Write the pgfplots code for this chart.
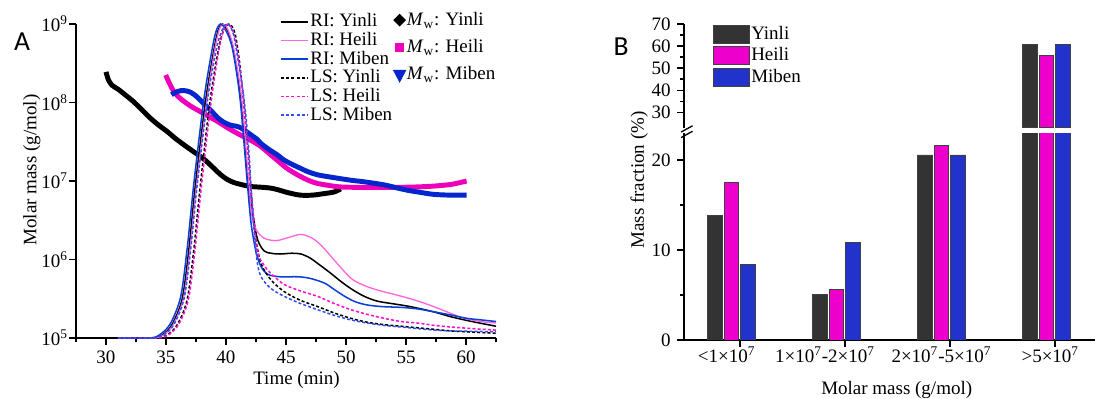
\documentclass[border=0pt]{standalone}
\usepackage{pgfplots}
\pgfplotsset{compat=1.18}
\usepackage{fontspec}
\setmainfont{Liberation Serif}
\newfontfamily\panelfont{Carlito}
\definecolor{riheili}{HTML}{FF66DD}
\definecolor{rimiben}{HTML}{0A3ED8}
\definecolor{lsheili}{HTML}{FF10CC}
\definecolor{lsmiben}{HTML}{3050F0}
\definecolor{mwheili}{HTML}{EE00BB}
\definecolor{mwmiben}{HTML}{0526CC}
\definecolor{barblack}{HTML}{333333}
\definecolor{barpink}{HTML}{EE00CC}
\definecolor{barblue}{HTML}{2233CC}
\pgfplotsset{
  common/.style={
    scale only axis,
    axis line style={line width=0.7pt,-},
    every tick/.style={black,line width=0.7pt},
    major tick length=3.5pt, minor tick length=2.2pt,
    tick align=outside,
    /pgf/number format/assume math mode=true,
    tick label style={font=\fontsize{10}{12}\selectfont},
    label style={font=\fontsize{10}{12}\selectfont},
  },
  lsstyle/.style={line width=0.8pt, dash pattern=on 1.6pt off 1.1pt},
}
\begin{document}
\fontsize{10}{12}\selectfont
\begin{tikzpicture}
\path[use as bounding box] (0,0) rectangle (577.4pt,210pt);
% ---------- Panel A: Mw overlay ----------
\begin{axis}[common, at={(40.0pt,32.1pt)}, anchor=south west,
  width=221.07pt, height=165.27pt,
  xmin=27.5, xmax=62.5, ymin=5, ymax=9, hide axis, clip=false,
  legend style={at={(0.757,1.045)}, anchor=north west, draw=none, fill=none,
    inner sep=0pt, row sep=3.9pt, font=\fontsize{10}{12}\selectfont,
    nodes={inner sep=1pt}},
  legend cell align=left]
\addplot[black, line width=2.6pt, smooth, tension=0.5,
  legend image code/.code={\fill[black] (2pt,0) -- (3.5pt,1.5pt) -- (5pt,0) -- (3.5pt,-1.5pt) -- cycle;}]
coordinates {(30.0,8.39) (30.2,8.29) (30.5,8.22) (31.0,8.17) (31.5,8.11) (32.3,8.01) (32.9,7.92) (33.7,7.80) (34.4,7.71) (35.1,7.63) (35.8,7.54) (36.5,7.46) (37.33,7.37) (37.9,7.31) (38.45,7.24) (39.0,7.16) (39.56,7.08) (40.1,7.02) (40.67,6.98) (41.4,6.95) (42.06,6.93) (43.0,6.92) (43.7,6.91) (44.3,6.89) (45.2,6.85) (46.2,6.82) (47.2,6.82) (48.2,6.84) (49.0,6.86) (49.56,6.90)};
\addlegendentry{\textit{M}\textsubscript{w}: Yinli}
\addplot[mwheili, line width=2.6pt, smooth, tension=0.5,
  legend image code/.code={\fill[mwheili] (2.3pt,-1.2pt) rectangle (4.7pt,1.2pt);}]
coordinates {(34.98,8.35) (35.3,8.24) (35.7,8.13) (36.2,8.05) (37.0,7.96) (37.9,7.88) (38.6,7.82) (39.28,7.76) (40.0,7.69) (40.67,7.63) (41.4,7.57) (42.06,7.52) (42.9,7.44) (43.6,7.35) (44.3,7.26) (45.0,7.17) (45.6,7.11) (46.3,7.05) (47.0,7.0) (47.6,6.97) (48.7,6.94) (49.5,6.925) (50.5,6.92) (51.8,6.92) (53.2,6.92) (54.6,6.92) (56.0,6.925) (57.3,6.935) (58.7,6.955) (59.5,6.98) (60.05,7.0)};
\addlegendentry{\textit{M}\textsubscript{w}: Heili}
\addplot[mwmiben, line width=2.6pt, smooth, tension=0.5,
  legend image code/.code={\fill[mwmiben] (2.1pt,1.2pt) -- (4.9pt,1.2pt) -- (3.5pt,-1.5pt) -- cycle;}]
coordinates {(35.45,8.10) (35.8,8.13) (36.2,8.15) (36.6,8.15) (37.06,8.13) (37.6,8.07) (38.17,7.98) (38.8,7.89) (39.28,7.81) (39.8,7.75) (40.4,7.71) (40.8,7.70) (41.2,7.68) (41.6,7.64) (42.06,7.59) (42.6,7.53) (42.9,7.48) (43.5,7.41) (44.3,7.33) (44.8,7.27) (45.4,7.22) (45.95,7.18) (46.8,7.12) (47.6,7.08) (48.7,7.05) (50.4,7.01) (51.5,6.99) (53.2,6.95) (54.3,6.91) (55.2,6.88) (56.0,6.86) (57.3,6.83) (58.7,6.82) (60.05,6.82)};
\addlegendentry{\textit{M}\textsubscript{w}: Miben}
\end{axis}
% ---------- Panel A: RI and LS ----------
\begin{axis}[common, at={(40.0pt,32.1pt)}, anchor=south west,
  width=221.07pt, height=165.27pt,
  xmin=27.5, xmax=62.5, ymin=5, ymax=9, clip=false,
  axis x line*=bottom, axis y line*=left,
  xtick={30,35,...,60}, minor xtick={27.5,32.5,...,62.5},
  ytick={5,6,7,8,9},
  yticklabels={10\textsuperscript{5},10\textsuperscript{6},10\textsuperscript{7},10\textsuperscript{8},10\textsuperscript{9}},
  yticklabel style={inner xsep=0.5pt},
  xlabel={Time (min)}, ylabel={Molar mass (g/mol)},
  xlabel style={at={(axis description cs:0.525,-0.134)}, anchor=center},
  ylabel style={at={(axis description cs:-0.105,0.535)}, anchor=center},
  legend style={at={(0.4857,1.04)}, anchor=north west, draw=none, fill=none,
    inner sep=0pt, row sep=-0.6pt, font=\fontsize{10}{12}\selectfont,
    nodes={inner sep=1pt}},
  legend cell align=left,
  legend image code/.code={\draw[#1] (0pt,0pt) -- (14pt,0pt);}]
\addplot[black, line width=0.8pt, smooth, tension=0.5] coordinates {
(31,5.0) (33.8,5.0) (34.7,5.04) (35.5,5.17) (36.35,5.5) (36.9,6.12) (37.45,6.95) (38.3,8.02) (38.98,8.66) (39.35,8.92) (39.7,9.0) (40.1,8.93) (40.6,8.68) (41.25,8.05) (41.85,6.97) (42.3,6.52) (42.64,6.25) (43.17,6.11) (43.75,6.08) (44.5,6.07) (45.5,6.08) (46.25,6.07) (47.0,6.02) (47.64,5.95) (48.6,5.84) (49.58,5.72) (50.5,5.62) (51.53,5.53) (52.6,5.47) (53.75,5.44) (55.0,5.41) (55.97,5.38) (57.4,5.33) (58.75,5.27) (60.5,5.21) (62.5,5.15)};
\addlegendentry{RI: Yinli}
\addplot[riheili, line width=0.7pt, smooth, tension=0.5] coordinates {
(31,5.0) (33.9,5.0) (34.8,5.04) (35.6,5.17) (36.45,5.5) (37.0,6.12) (37.55,6.95) (38.4,8.02) (39.05,8.66) (39.42,8.92) (39.75,9.0) (40.15,8.93) (40.65,8.68) (41.3,8.05) (41.9,6.97) (42.2,6.52) (42.6,6.36) (43.2,6.27) (44.17,6.24) (45.2,6.28) (46.25,6.32) (47.2,6.27) (48.0,6.17) (49.03,5.99) (50.42,5.76) (51.5,5.67) (52.64,5.61) (53.9,5.56) (55.14,5.51) (56.4,5.45) (57.64,5.38) (58.8,5.31) (59.86,5.25) (61.2,5.21) (62.5,5.19)};
\addlegendentry{RI: Heili}
\addplot[rimiben, line width=0.8pt, smooth, tension=0.5] coordinates {
(31,5.0) (33.7,5.0) (34.56,5.05) (35.39,5.19) (36.23,5.53) (36.78,6.16) (37.33,6.98) (38.17,8.05) (38.86,8.69) (39.2,8.92) (39.55,9.0) (39.95,8.93) (40.53,8.69) (41.17,8.05) (41.78,6.97) (42.1,6.45) (42.5,6.10) (42.92,5.91) (43.5,5.81) (44.5,5.78) (46.0,5.78) (47.0,5.76) (48.2,5.70) (49.0,5.62) (49.9,5.53) (50.8,5.46) (51.8,5.42) (53.0,5.40) (54.6,5.39) (56.0,5.37) (57.1,5.34) (58.5,5.30) (60.1,5.25) (61.3,5.23) (62.5,5.21)};
\addlegendentry{RI: Miben}
\addplot[black, lsstyle, smooth, tension=0.5] coordinates {
(31,5.0) (34.0,5.0) (35.0,5.03) (35.9,5.16) (36.75,5.48) (37.3,6.1) (37.85,6.93) (38.65,8.0) (39.35,8.66) (39.8,8.92) (40.3,9.0) (40.75,8.88) (41.1,8.55) (41.45,8.05) (41.8,7.45) (42.1,6.85) (42.45,6.3) (42.92,5.95) (43.75,5.74) (44.86,5.59) (46.2,5.48) (47.64,5.40) (49.0,5.32) (50.42,5.25) (51.8,5.20) (53.19,5.17) (54.6,5.15) (55.97,5.13) (57.4,5.11) (58.75,5.09) (60.5,5.075) (62.5,5.06)};
\addlegendentry{LS: Yinli}
\addplot[lsheili, lsstyle, smooth, tension=0.5] coordinates {
(31,5.0) (34.1,5.0) (35.1,5.03) (36.0,5.16) (36.85,5.48) (37.4,6.1) (37.95,6.93) (38.75,8.0) (39.4,8.66) (39.8,8.92) (40.2,9.0) (40.65,8.88) (41.05,8.55) (41.45,8.05) (41.8,7.45) (42.1,6.85) (42.4,6.4) (42.64,6.08) (43.2,5.92) (43.75,5.82) (44.86,5.68) (46.2,5.60) (47.64,5.53) (49.0,5.44) (50.42,5.36) (51.8,5.30) (53.19,5.25) (54.6,5.21) (55.97,5.19) (57.4,5.16) (58.75,5.14) (60.5,5.12) (62.5,5.10)};
\addlegendentry{LS: Heili}
\addplot[lsmiben, lsstyle, smooth, tension=0.5] coordinates {
(31,5.0) (33.8,5.0) (34.8,5.04) (35.65,5.17) (36.5,5.5) (37.05,6.12) (37.6,6.95) (38.45,8.02) (39.2,8.68) (39.7,8.93) (40.15,9.0) (40.6,8.88) (41.0,8.55) (41.5,8.05) (41.85,7.5) (42.1,6.9) (42.35,6.35) (42.64,5.93) (43.0,5.76) (43.75,5.63) (44.86,5.53) (46.2,5.44) (47.64,5.36) (49.0,5.29) (50.42,5.23) (51.8,5.19) (53.19,5.16) (54.6,5.14) (55.97,5.12) (57.4,5.10) (58.75,5.09) (60.5,5.085) (62.5,5.08)};
\addlegendentry{LS: Miben}
\end{axis}
\node[font=\panelfont\fontsize{14.5}{16}\selectfont] at (11.6pt,187.9pt) {A};
\node[font=\panelfont\fontsize{14.5}{16}\selectfont] at (326.9pt,185.3pt) {B};
% ---------- Panel B lower ----------
\begin{axis}[common, at={(360.02pt,31.05pt)}, anchor=south west,
  width=216.33pt, height=108.95pt,
  xmin=-0.452, xmax=3.462, ymin=0, ymax=23,
  axis x line*=bottom, axis y line*=left,
  ybar=1.0pt, bar width=7.7pt,
  xtick={0.081,1.081,2.081,3.081}, xticklabels={},
  extra x ticks={0,1,2,3},
  extra x tick labels={<1×10\textsuperscript{7}\hspace*{5pt}, 1×10\textsuperscript{7}-2×10\textsuperscript{7}\hspace*{12pt}, 2×10\textsuperscript{7}-5×10\textsuperscript{7}, \hspace*{4pt}>5×10\textsuperscript{7}},
  extra x tick style={major tick length=0pt},
  ytick={0,10,20}, minor ytick={5,15},
  xlabel={Molar mass (g/mol)}, ylabel={Mass fraction (\%)},
  xlabel style={at={(axis description cs:0.5175,-0.243)}, anchor=center},
  ylabel style={at={(axis description cs:-0.109,0.773)}, anchor=center},
  every axis plot/.append style={draw=black!75, line width=0.4pt}]
\addplot[fill=barblack] coordinates {(0,13.8) (1,5.07) (2,20.56) (3,60.9)};
\addplot[fill=barpink] coordinates {(0,17.5) (1,5.63) (2,21.6) (3,55.6)};
\addplot[fill=barblue] coordinates {(0,8.44) (1,10.8) (2,20.56) (3,60.6)};
\end{axis}
% ---------- Panel B upper ----------
\begin{axis}[common, at={(360.02pt,142.8pt)}, anchor=south west,
  width=216.33pt, height=54.58pt,
  xmin=-0.452, xmax=3.462, ymin=23, ymax=70,
  axis x line=none, axis y line*=left,
  ybar=1.0pt, bar width=7.7pt,
  xtick=\empty,
  ytick={30,40,...,70}, minor ytick={35,45,55,65},
  every axis plot/.append style={draw=black!75, line width=0.4pt},
  legend style={at={(0.0698,1.0)}, anchor=north west, draw=none, fill=none,
    inner sep=0pt, row sep=0.8pt, font=\fontsize{10}{12}\selectfont,
    nodes={inner sep=1pt}},
  legend cell align=left,
  legend image code/.code={\draw[#1] (0pt,-4.7pt) rectangle (18.7pt,4.7pt);}]
\addplot[fill=barblack] coordinates {(3,60.9)};
\addlegendentry{Yinli}
\addplot[fill=barpink] coordinates {(3,55.6)};
\addlegendentry{Heili}
\addplot[fill=barblue] coordinates {(3,60.6)};
\addlegendentry{Miben}
\end{axis}
% axis break marks
\draw[line width=0.7pt] (358.5pt,140.5pt) -- (364.5pt,143.8pt);
\draw[line width=0.7pt] (358.5pt,137.6pt) -- (364.5pt,140.9pt);
\end{tikzpicture}
\end{document}
